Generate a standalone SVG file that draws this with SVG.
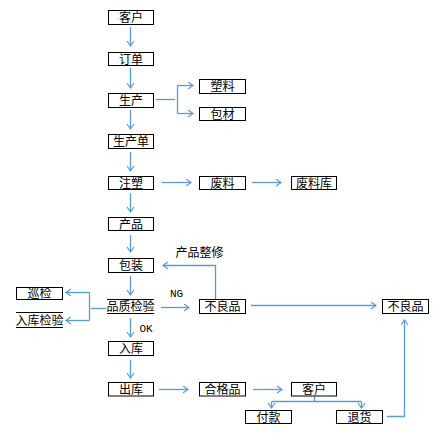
<svg xmlns="http://www.w3.org/2000/svg" width="442" height="444" viewBox="0 0 442 444">
<style>
.b{fill:#fff;stroke:#000;stroke-width:1}
.l{stroke:#000;stroke-width:1}
.t{font-family:"Noto Sans CJK SC","Noto Sans",sans-serif;font-size:12px;fill:#000;text-anchor:middle}
.c{fill:none;stroke:#5b9bd5;stroke-width:1.3}
.m{font-family:"Liberation Mono",monospace;font-size:11px;fill:#000}
</style>
<defs>
<marker id="a" markerUnits="userSpaceOnUse" markerWidth="10" markerHeight="10" refX="6" refY="4" orient="auto">
<path d="M1,0.5 L6,4 L1,7.5" fill="none" stroke="#5b9bd5" stroke-width="1.2"/>
</marker>
</defs>
<rect width="442" height="444" fill="#fff"/>
<g id="connectors">
<path class="c" d="M130.5,27 V46" marker-end="url(#a)"/>
<path class="c" d="M130.5,68 V88" marker-end="url(#a)"/>
<path class="c" d="M130.5,110 V129" marker-end="url(#a)"/>
<path class="c" d="M130.5,152 V171" marker-end="url(#a)"/>
<path class="c" d="M130.5,193 V212" marker-end="url(#a)"/>
<path class="c" d="M130.5,235 V252" marker-end="url(#a)"/>
<path class="c" d="M130.5,276 V295" marker-end="url(#a)"/>
<path class="c" d="M156,99.5 H175"/>
<path class="c" d="M177.5,85.5 V113.5"/>
<path class="c" d="M177.5,85.5 H193" marker-end="url(#a)"/>
<path class="c" d="M177.5,113.5 H193" marker-end="url(#a)"/>
<path class="c" d="M162,182.5 H191" marker-end="url(#a)"/>
<path class="c" d="M252,182.5 H281" marker-end="url(#a)"/>
<path class="c" d="M91,308.5 H106"/>
<path class="c" d="M89.5,292.5 V320.5"/>
<path class="c" d="M89.5,292.5 H66" marker-end="url(#a)"/>
<path class="c" d="M89.5,320.5 H66" marker-end="url(#a)"/>
<path class="c" d="M161,307.5 H189" marker-end="url(#a)"/>
<path class="c" d="M215.5,299 V265.5 H163" marker-end="url(#a)"/>
<path class="c" d="M251,305.5 H376" marker-end="url(#a)"/>
<path class="c" d="M130.5,318 V337" marker-end="url(#a)"/>
<path class="c" d="M130.5,360 V378" marker-end="url(#a)"/>
<path class="c" d="M159,389.5 H188" marker-end="url(#a)"/>
<path class="c" d="M253,389.5 H282" marker-end="url(#a)"/>
<path class="c" d="M314.5,396 V401.5"/>
<path class="c" d="M271.5,401.5 H361.5"/>
<path class="c" d="M271.5,401.5 V408" marker-end="url(#a)"/>
<path class="c" d="M361.5,401.5 V408" marker-end="url(#a)"/>
<path class="c" d="M387,416.5 H404.5 V320" marker-end="url(#a)"/>
</g>
<g id="n1"><rect class="b" x="108.5" y="10.5" width="45" height="14"/><text class="t" x="131" y="22">客户</text></g>
<g id="n2"><rect class="b" x="108.5" y="52.5" width="45" height="13"/><text class="t" x="131" y="63.5">订单</text></g>
<g id="n3"><rect class="b" x="108.5" y="93.5" width="45" height="14"/><text class="t" x="131" y="105">生产</text></g>
<g id="n4"><rect class="b" x="199.5" y="79.5" width="46" height="14"/><text class="t" x="222.5" y="91">塑料</text></g>
<g id="n5"><rect class="b" x="199.5" y="107.5" width="46" height="13"/><text class="t" x="222.5" y="118.5">包材</text></g>
<g id="n6"><rect class="b" x="108.5" y="134.5" width="45" height="14"/><text class="t" x="131" y="146">生产单</text></g>
<g id="n7"><rect class="b" x="108.5" y="176.5" width="45" height="13"/><text class="t" x="131" y="187.5">注塑</text></g>
<g id="n8"><rect class="b" x="199.5" y="176.5" width="46" height="13"/><text class="t" x="222.5" y="187.5">废料</text></g>
<g id="n9"><rect class="b" x="291.5" y="176.5" width="45" height="13"/><text class="t" x="314" y="187.5">废料库</text></g>
<g id="n10"><rect class="b" x="108.5" y="217.5" width="45" height="13"/><text class="t" x="131" y="228.5">产品</text></g>
<g id="n11"><rect class="b" x="108.5" y="258.5" width="45" height="14"/><text class="t" x="131" y="270">包装</text></g>
<g id="n12"><rect class="b" x="16.5" y="287.5" width="46" height="12"/><text class="t" x="39.5" y="298">巡检</text></g>
<g id="n13"><path class="l" d="M16,312.5 H63 M16,327.5 H63"/><text class="t" x="39.5" y="325">入库检验</text></g>
<g id="n14"><path class="l" d="M107,299.5 H154 M107,313.5 H154"/><text class="t" x="130.5" y="311">品质检验</text></g>
<g id="n15"><rect class="b" x="199.5" y="299.5" width="46" height="14"/><text class="t" x="222.5" y="311">不良品</text></g>
<g id="n16"><rect class="b" x="382.5" y="299.5" width="46" height="14"/><text class="t" x="405.5" y="311">不良品</text></g>
<g id="n17"><rect class="b" x="108.5" y="341.5" width="45" height="14"/><text class="t" x="131" y="353">入库</text></g>
<g id="n18"><rect class="b" x="108.5" y="382.5" width="45" height="13.5"/><text class="t" x="131" y="394">出库</text></g>
<g id="n19"><rect class="b" x="199.5" y="382.5" width="46" height="13.5"/><text class="t" x="222.5" y="394">合格品</text></g>
<g id="n20"><rect class="b" x="291.5" y="382.5" width="45" height="13.5"/><text class="t" x="314" y="394">客户</text></g>
<g id="n21"><rect class="b" x="245.5" y="410.5" width="46" height="13"/><text class="t" x="268.5" y="421.5">付款</text></g>
<g id="n22"><rect class="b" x="336.5" y="410.5" width="46" height="13"/><text class="t" x="359.5" y="421.5">退货</text></g>
<g id="labels">
<text class="t" x="199.5" y="257">产品整修</text>
<text class="m" x="170" y="296.5">NG</text>
<text class="m" x="139.5" y="332">OK</text>
</g>
</svg>
